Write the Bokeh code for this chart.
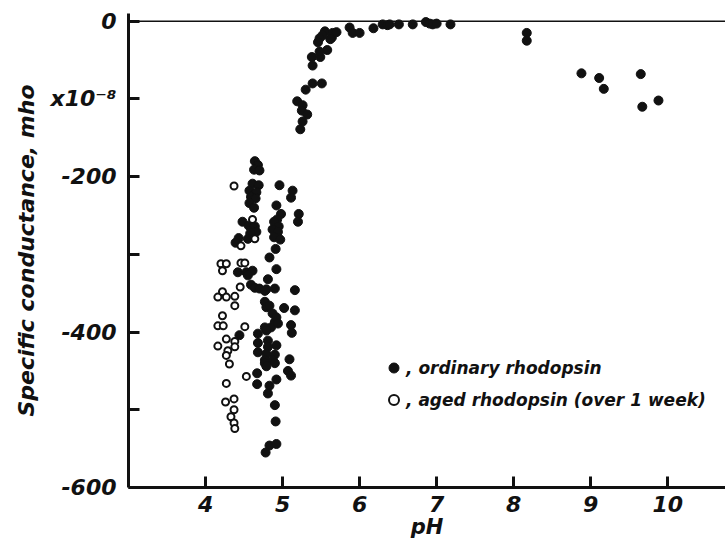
from bokeh.plotting import figure
from bokeh.models import Span, Legend, LegendItem, FixedTicker, Range1d
from bokeh.embed import file_html
from bokeh.resources import INLINE

# ordinary rhodopsin (filled)
ord_ph = [5.55, 5.52, 5.48, 5.46, 5.64, 5.65, 5.70, 5.62, 5.87, 5.91, 6.00, 6.18, 6.30, 6.36, 6.39,
          6.51, 6.69, 6.86, 6.91, 6.95, 7.00, 7.18, 5.38, 5.49, 5.39, 5.58, 5.48, 5.39, 5.51, 5.30,
          5.19, 5.26, 5.25, 5.32, 5.26, 5.23,
          8.17, 8.17, 8.88, 9.11, 9.17, 9.65, 9.67, 9.88,
          4.64, 4.68, 4.63, 4.70, 4.61, 4.69, 4.57, 4.66, 4.59, 4.65, 4.57, 4.63, 4.96, 5.13, 5.11,
          4.92, 4.98, 4.93, 4.89, 4.95, 4.87, 4.94, 4.89, 4.97, 4.91, 5.21, 5.20, 4.48, 4.56, 4.64,
          4.66, 4.58, 4.55, 4.43, 4.39, 4.83,
          4.42, 4.53, 4.61, 4.55, 4.92, 4.81, 4.59, 4.64, 4.70, 4.79, 4.77, 4.90, 5.16, 4.77, 4.79,
          4.83, 5.02, 5.16, 4.87, 4.92, 4.90, 4.85, 4.94, 5.11, 5.12, 4.77, 4.79, 4.44, 4.68, 4.81,
          4.92, 4.81, 4.68, 4.68, 4.79, 4.90, 4.77, 4.87, 5.09,
          4.77, 4.90, 4.79, 5.07, 5.11, 4.67, 4.67, 4.83, 4.92, 4.81, 4.90, 4.91, 4.83, 4.92, 4.78]
ord_val = [-13, -18, -22, -27, -21, -15, -14, -23, -8, -15, -15, -9, -4, -5, -4,
           -4, -4, -1, -3, -4, -3, -4, -46, -46, -57, -37, -39, -80, -80, -88,
           -103, -108, -115, -120, -129, -139,
           -15, -25, -67, -73, -87, -68, -110, -102,
           -180, -185, -191, -192, -209, -211, -218, -220, -226, -228, -234, -240, -211, -218, -227,
           -237, -248, -255, -258, -264, -268, -271, -278, -281, -293, -248, -258, -258, -263, -264,
           -271, -273, -280, -279, -285, -304,
           -323, -323, -321, -327, -319, -332, -339, -343, -344, -345, -347, -344, -346, -361, -368,
           -366, -369, -372, -376, -381, -387, -394, -389, -391, -401, -394, -398, -404, -402, -411,
           -417, -419, -414, -426, -428, -429, -436, -436, -435,
           -440, -440, -444, -450, -456, -453, -467, -469, -461, -479, -494, -515, -546, -544, -555]

# aged rhodopsin (open)
aged_ph = [4.37, 4.61, 4.64, 4.46, 4.20, 4.27, 4.22, 4.46, 4.51,
           4.22, 4.16, 4.27, 4.38, 4.45, 4.38, 4.22, 4.16, 4.23, 4.51, 4.27, 4.38, 4.16, 4.38, 4.29,
           4.27, 4.31, 4.53, 4.27, 4.37, 4.26, 4.37, 4.33, 4.37, 4.38]
aged_val = [-212, -255, -280, -289, -312, -312, -321, -311, -311,
            -348, -355, -355, -354, -342, -366, -379, -392, -392, -393, -409, -412, -418, -419, -424,
            -430, -441, -457, -466, -486, -490, -500, -509, -517, -524]

x_ticks = [4, 5, 6, 7, 8, 9, 10]
y_ticks = [0, -100, -200, -300, -400, -500, -600]
y_tick_labels = ["0", "x10\u207b\u2078", "-200", "", "-400", "", "-600"]

INK = "#111111"
FONT = "DejaVu Sans"

p = figure(width=725, height=550, output_backend="svg", toolbar_location=None,
           x_range=Range1d(3.0, 10.75), y_range=Range1d(-600, 10),
           min_border_left=128, min_border_right=0, min_border_top=13, min_border_bottom=63)
p.outline_line_color = None
p.xgrid.visible = False
p.ygrid.visible = False
p.background_fill_color = "white"
p.border_fill_color = "white"

p.add_layout(Span(location=0, dimension="width", line_color=INK, line_width=1.5))

r1 = p.scatter(ord_ph, ord_val, size=9, marker="circle", fill_color=INK, line_color=INK, line_width=1)
r2 = p.scatter(aged_ph, aged_val, size=7, marker="circle", fill_color="white", line_color=INK, line_width=2)

for ax in (p.xaxis[0], p.yaxis[0]):
    ax.axis_line_width = 3
    ax.axis_line_color = INK
    ax.major_tick_line_width = 3
    ax.major_tick_line_color = INK
    ax.major_tick_in = 11
    ax.major_tick_out = 0
    ax.minor_tick_line_color = None
    ax.major_label_text_font = FONT
    ax.major_label_text_font_style = "bold italic"
    ax.major_label_text_font_size = "22px"
    ax.major_label_text_color = INK
    ax.axis_label_text_font = FONT
    ax.axis_label_text_font_style = "bold italic"
    ax.axis_label_text_color = INK

p.xaxis.ticker = FixedTicker(ticks=x_ticks)
p.xaxis.axis_label = "pH"
p.xaxis.axis_label_text_font_size = "21px"
p.xaxis.major_label_standoff = 8
p.xaxis.axis_label_standoff = 0

p.yaxis.ticker = FixedTicker(ticks=y_ticks)
p.yaxis.major_label_overrides = {t: s for t, s in zip(y_ticks, y_tick_labels)}
p.yaxis.axis_label = "Specific conductance, mho"
p.yaxis.axis_label_text_font_size = "22px"
p.yaxis.major_label_standoff = 12
p.yaxis.axis_label_standoff = 8

legend = Legend(items=[LegendItem(label=", ordinary rhodopsin", renderers=[r1]),
                       LegendItem(label=", aged rhodopsin (over 1 week)", renderers=[r2])],
                location=(253, 75))
legend.border_line_color = None
legend.background_fill_alpha = 0
legend.padding = 0
legend.margin = 0
legend.spacing = 7
legend.glyph_width = 25
legend.glyph_height = 25
legend.label_height = 25
legend.label_standoff = 0
legend.label_text_font = FONT
legend.label_text_font_style = "bold italic"
legend.label_text_font_size = "17px"
legend.label_text_color = INK
p.add_layout(legend)

open("out.html", "w").write(file_html(p, INLINE))
